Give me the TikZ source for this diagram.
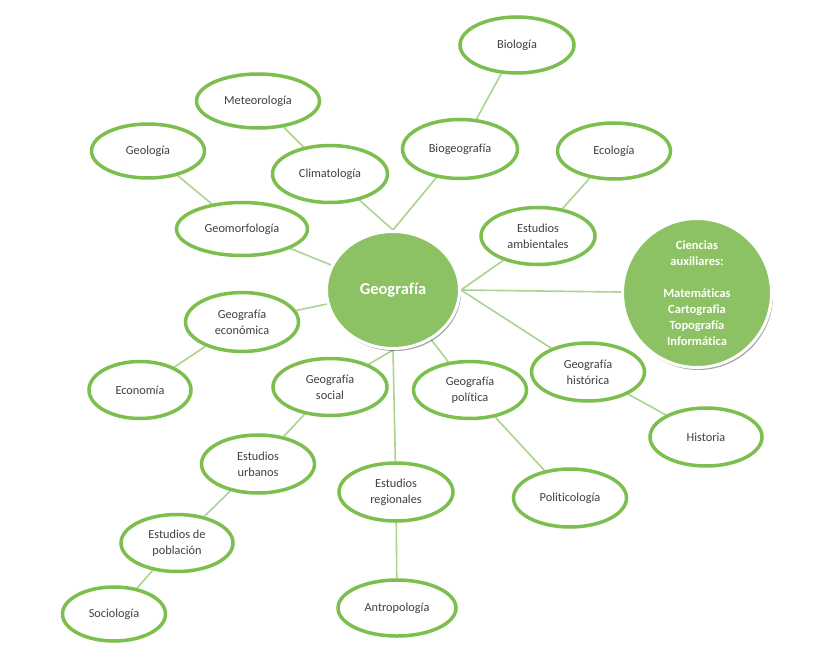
\documentclass[tikz,border=0pt]{standalone}
\usepackage{fontspec}
\setmainfont{Carlito}[Ligatures=NoCommon]
\usetikzlibrary{shapes.geometric,backgrounds,shadows}
\definecolor{egreen}{HTML}{7CBF4E}
\definecolor{lgreen}{HTML}{AAD48F}
\definecolor{cgreen}{HTML}{8CC263}
\definecolor{tgray}{HTML}{404040}
\tikzset{
  ell/.style n args={2}{ellipse, draw=egreen, line width=3.5pt, fill=white,
    minimum width=#1, minimum height=#2, inner sep=0pt, align=center,
    text=tgray, font=\fontsize{12.3}{16}\selectfont},
  hub/.style n args={2}{ellipse, draw=white, line width=3pt, fill=cgreen,
    minimum width=#1, minimum height=#2, inner sep=0pt, align=center,
    text=white, drop shadow={shadow xshift=1.5pt, shadow yshift=-2.5pt, opacity=0.35, fill=black}},
  conn/.style={draw=lgreen, line width=1.6pt}
}
\begin{document}
\begin{tikzpicture}[x=1pt,y=-1pt]
\useasboundingbox (0,0) rectangle (824,666);
\node[ell={114pt}{56pt}] (bio) at (517,45) {Biología};
\node[ell={123pt}{54pt}] (met) at (258,101) {Meteorología};
\node[ell={113pt}{54pt}] (geol) at (148,151) {Geología};
\node[ell={115pt}{57pt}] (clim) at (330,174) {Climatología};
\node[ell={115pt}{59pt}] (biog) at (460,149) {Biogeografía};
\node[ell={113pt}{56pt}] (eco) at (614,151) {Ecología};
\node[ell={131pt}{53pt}] (geom) at (242,229) {Geomorfología};
\node[ell={114pt}{57pt}] (amb) at (538,236) {Estudios\\ambientales};
\node[hub={133pt}{117pt}, font=\fontsize{16.5}{20}\selectfont\bfseries] (geo) at (393,290) {Geografía};
\node[hub={149pt}{149pt}, font=\fontsize{12.5}{16}\selectfont\bfseries] (cien) at (697,293)
  {Ciencias\\auxiliares:\\[16pt]Matemáticas\\Cartografia\\Topografía\\Informática};
\node[ell={113pt}{59pt}] (econ) at (242,322) {Geografía\\económica};
\node[ell={102pt}{57pt}] (econom) at (140,390) {Economía};
\node[ell={114pt}{57pt}] (soc) at (330,387) {Geografía\\social};
\node[ell={113pt}{57pt}] (pol) at (470,390) {Geografía\\política};
\node[ell={113pt}{58pt}] (hist) at (588,372) {Geografía\\histórica};
\node[ell={112pt}{58pt}] (histo) at (706,437) {Historia};
\node[ell={113pt}{58pt}] (urb) at (258,464) {Estudios\\urbanos};
\node[ell={114pt}{58pt}] (reg) at (396,492) {Estudios\\regionales};
\node[ell={113pt}{58pt}] (polit) at (570,498) {Politicología};
\node[ell={112pt}{57pt}] (pob) at (177,543) {Estudios de\\población};
\node[ell={103pt}{54pt}] (soci) at (114,614) {Sociología};
\node[ell={118pt}{56pt}] (antro) at (397,608) {Antropología};
\begin{scope}[on background layer]
\fill[white] (0,0) rectangle (824,666);
\draw[conn] (bio) -- (biog);
\draw[conn] (met) -- (clim);
\draw[conn] (geol) -- (geom);
\draw[conn] (clim) -- (geo.north);
\draw[conn] (biog) -- (geo.north);
\draw[conn] (eco) -- (amb);
\draw[conn] (geom) -- (geo);
\draw[conn] (amb) -- (geo.east);
\draw[conn] (cien) -- (geo.east);
\draw[conn] (hist) -- (geo.east);
\draw[conn] (econ) -- (geo);
\draw[conn] (econom) -- (econ);
\draw[conn] (soc) -- (geo.south);
\draw[conn] (reg) -- (geo.south);
\draw[conn] (pol) -- (geo);
\draw[conn] (hist) -- (histo);
\draw[conn] (pol) -- (polit);
\draw[conn] (soc) -- (urb);
\draw[conn] (urb) -- (pob);
\draw[conn] (pob) -- (soci);
\draw[conn] (reg) -- (antro);
\end{scope}
\end{tikzpicture}
\end{document}
